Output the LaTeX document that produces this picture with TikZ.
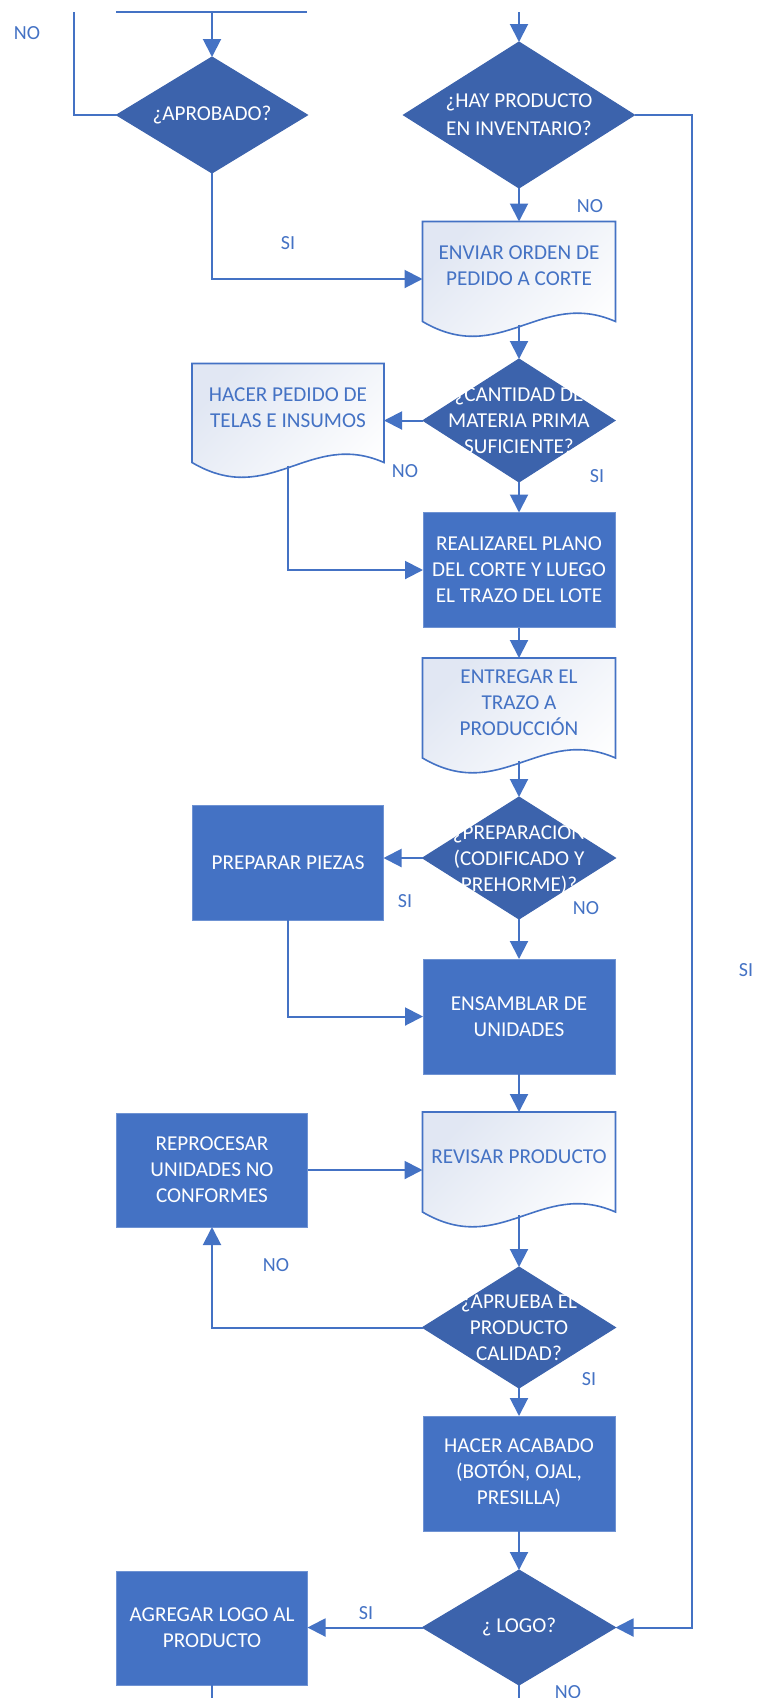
\documentclass[tikz,border=0pt]{standalone}
\usepackage{fontspec}
\setmainfont{Carlito}
\usetikzlibrary{arrows.meta,calc,shapes.geometric,backgrounds}
\definecolor{lblue}{HTML}{4472C4}
\definecolor{dblue}{HTML}{3C63AC}
\definecolor{rborder}{HTML}{6F93D3}
\definecolor{docA}{HTML}{E1E7F3}
\newcommand\boxfont{\fontsize{10.6pt}{13pt}\selectfont}
\newcommand\hayfont{\fontsize{10.6pt}{14pt}\selectfont}
\newcommand\lblfont{\fontsize{10pt}{12pt}\selectfont}
\newcommand\docoutline[1]{%
  \shade[draw=lblue, line width=0.8pt, top color=docA, bottom color=white, shading angle=45]
  (#1.north west) -- (#1.north east) -- ($(#1.south east)+(0,-15)$)
  .. controls ($(#1.south east)+(-75,-48)$) and ($(#1.south west)+(78,31)$)
  .. ($(#1.south west)+(0,-15)$) -- cycle;}
\begin{document}
\begin{tikzpicture}[x=0.5pt,y=-0.5pt,
  conn/.style={draw=lblue, line width=1pt},
  arr/.style={conn, -{Triangle[length=9pt,width=9pt]}},
  procbox/.style={rectangle, fill=lblue, draw=rborder, line width=0.5pt, text=white,
    align=center, font=\boxfont, minimum width=96pt, minimum height=57.5pt,
    inner sep=1pt, outer sep=0pt},
  decision/.style={diamond, fill=dblue, draw=dblue, line width=0.5pt, inner sep=0pt,
    outer sep=0pt},
  docnode/.style={rectangle, draw=none, inner sep=0pt, outer sep=0pt,
    minimum width=96.5pt, minimum height=57.5pt},
  doctxt/.style={text=lblue, align=center, font=\boxfont, inner sep=0pt, yshift=6.5pt},
  diatxt/.style={text=white, align=center, font=\boxfont, inner sep=0pt},
  lbl/.style={text=lblue, font=\lblfont, inner sep=0pt}]
\useasboundingbox (0,0) rectangle (756,1698);

% decisions
\node[decision, minimum width=95.5pt, minimum height=58pt,
  label={[diatxt]center:{¿APROBADO?}}] (aprob) at (212,115) {};
\node[decision, minimum width=115.5pt, minimum height=73pt,
  label={[diatxt, font=\hayfont]center:{¿HAY PRODUCTO\\EN INVENTARIO?}}] (hay) at (519,115) {};
\node[decision, minimum width=96pt, minimum height=61.5pt,
  label={[diatxt]center:{¿CANTIDAD DE\\MATERIA PRIMA\\SUFICIENTE?}}] (cant) at (519,420.5) {};
\node[decision, minimum width=96.5pt, minimum height=61pt,
  label={[diatxt]center:{¿PREPARACIÓN\\(CODIFICADO Y\\PREHORME)?}}] (prep) at (519,858) {};
\node[decision, minimum width=96.5pt, minimum height=60.5pt,
  label={[diatxt]center:{¿APRUEBA EL\\PRODUCTO\\CALIDAD?}}] (apr) at (519,1327.5) {};
\node[decision, minimum width=96.5pt, minimum height=57.5pt,
  label={[diatxt]center:{¿ LOGO?}}] (logo) at (519,1627.5) {};

% documents
\node[docnode, label={[doctxt]center:{ENVIAR ORDEN DE\\PEDIDO A CORTE}}] (env) at (519,279) {};
\node[docnode, minimum width=96pt, minimum height=57pt,
  label={[doctxt]center:{HACER PEDIDO DE\\TELAS E INSUMOS}}] (hped) at (288,420.5) {};
\node[docnode, label={[doctxt]center:{ENTREGAR EL\\TRAZO A\\PRODUCCIÓN}}] (entr) at (519,715.5) {};
\node[docnode, label={[doctxt]center:{REVISAR PRODUCTO}}] (rev) at (519,1169.5) {};

% processes
\node[procbox] (real) at (519,570) {REALIZAREL PLANO\\DEL CORTE Y LUEGO\\EL TRAZO DEL LOTE};
\node[procbox, minimum width=95.5pt] (ppz) at (288,862.5) {PREPARAR PIEZAS};
\node[procbox] (ens) at (519,1016.5) {ENSAMBLAR DE\\UNIDADES};
\node[procbox, minimum width=95.5pt, minimum height=57pt] (repr) at (212,1170) {REPROCESAR\\UNIDADES NO\\CONFORMES};
\node[procbox] (acab) at (519,1473.5) {HACER ACABADO\\(BOTÓN, OJAL,\\PRESILLA)};
\node[procbox, minimum width=95.5pt, minimum height=57pt] (agr) at (212,1628) {AGREGAR LOGO AL\\PRODUCTO};

\begin{scope}[on background layer]
  \docoutline{env}
  \docoutline{hped}
  \docoutline{entr}
  \docoutline{rev}
\end{scope}

% free ends
\coordinate (hl) at (116,12);
\coordinate (hr) at (307,12);
\coordinate (tl) at (74,12);
\coordinate (tm) at (212,12);
\coordinate (tr) at (519,12);
\coordinate (rx) at (692,0);
\coordinate (bl) at (212,1698);
\coordinate (bm) at (519,1698);

% connectors
\draw[conn] (hl) -- (hr);
\draw[arr] (tm) -- (aprob.north);
\draw[conn] (aprob.west) -| (tl);
\draw[arr] (tr) -- (hay.north);
\draw[arr] (aprob.south) |- (env.west);
\draw[arr] (hay.south) -- (env.north);
\draw[arr] (hay.east) -- (hay.east -| rx) -- (logo.east -| rx) -- (logo.east);
\draw[arr] ($(env.south)+(0,-12)$) -- (cant.north);
\draw[arr] (cant.west) -- (hped.east);
\draw[arr] ($(hped.south)+(0,-12)$) |- (real.west);
\draw[arr] (cant.south) -- (real.north);
\draw[arr] (real.south) -- (entr.north);
\draw[arr] ($(entr.south)+(0,-12)$) -- (prep.north);
\draw[arr] (prep.west) -- (prep.west -| ppz.east);
\draw[arr] (ppz.south) |- (ens.west);
\draw[arr] (prep.south) -- (ens.north);
\draw[arr] (ens.south) -- (rev.north);
\draw[arr] (repr.east) -- (repr.east -| rev.west);
\draw[arr] ($(rev.south)+(0,-12)$) -- (apr.north);
\draw[arr] (apr.west) -| (repr.south);
\draw[arr] (apr.south) -- (acab.north);
\draw[arr] (acab.south) -- (logo.north);
\draw[arr] (logo.west) -- (logo.west -| agr.east);
\draw[conn] (agr.south) -- (bl);
\draw[conn] (logo.south) -- (bm);

% branch labels
\node[lbl] (no1) at (27,33) {NO};
\node[lbl] (si1) at (288,243) {SI};
\node[lbl] (no2) at (590,206) {NO};
\node[lbl] (no3) at (405,471) {NO};
\node[lbl] (si3) at (597,476) {SI};
\node[lbl] (si4) at (405,901) {SI};
\node[lbl] (no4) at (586,908) {NO};
\node[lbl] (sir) at (746,970) {SI};
\node[lbl] (no5) at (276,1265) {NO};
\node[lbl] (si5) at (589,1379) {SI};
\node[lbl] (si6) at (366,1613) {SI};
\node[lbl] (no6) at (568,1692) {NO};
\end{tikzpicture}
\end{document}
